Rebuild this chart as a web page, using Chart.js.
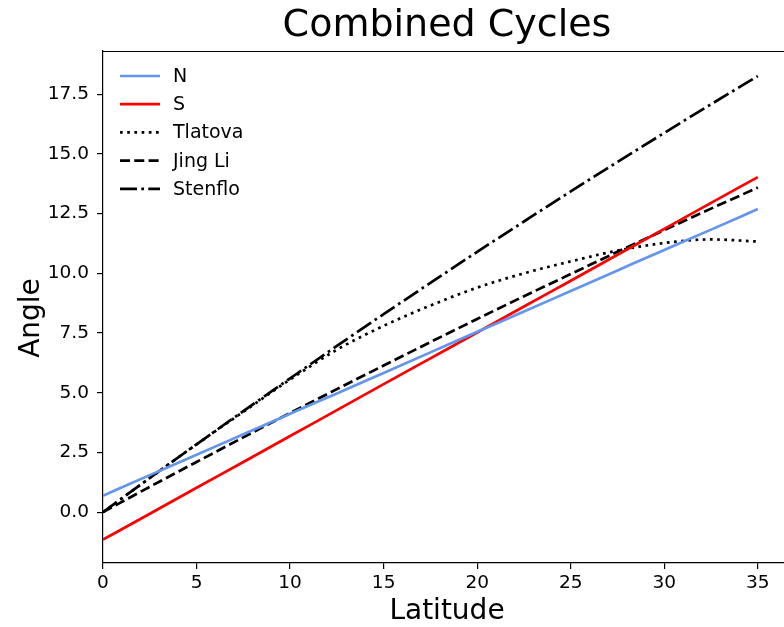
<!DOCTYPE html>
<html>
<head>
<meta charset="utf-8">
<script src="https://cdn.jsdelivr.net/npm/chart.js@4.4.1/dist/chart.umd.min.js"></script>
<style>
  html, body { margin: 0; padding: 0; background: #fff; overflow: hidden; }
  #wrap { width: 784px; height: 627px; }
</style>
</head>
<body>
<div id="wrap"><canvas id="cycles"></canvas></div>
<script>
const latitudes = [0, 2.5, 5, 7.5, 10, 12.5, 15, 17.5, 20, 22.5, 25, 27.5, 30, 32.5, 35];
const north   = [0.69, 1.55, 2.40, 3.26, 4.12, 4.97, 5.83, 6.69, 7.55, 8.40, 9.26, 10.12, 10.98, 11.83, 12.69];
const south   = [-1.15, -0.07, 1.02, 2.10, 3.19, 4.27, 5.36, 6.44, 7.52, 8.61, 9.69, 10.78, 11.86, 12.95, 14.03];
const tlatova = [0, 1.43, 2.84, 4.20, 5.55, 6.80, 7.80, 8.65, 9.40, 10.00, 10.50, 10.95, 11.27, 11.42, 11.33];
const jingLi  = [0, 1.06, 2.10, 3.13, 4.15, 5.15, 6.14, 7.12, 8.09, 9.04, 9.97, 10.90, 11.81, 12.71, 13.59];
const stenflo = [0, 1.43, 2.84, 4.23, 5.60, 6.96, 8.29, 9.60, 10.90, 12.17, 13.43, 14.66, 15.88, 17.08, 18.26];

const latTicks = [0, 5, 10, 15, 20, 25, 30, 35];
const angleTicks = [0, 2.5, 5, 7.5, 10, 12.5, 15, 17.5];

const FONT = "'DejaVu Sans', sans-serif";
const LW = 2.7;

function points(values) {
  return latitudes.map((lat, i) => ({ x: lat, y: values[i] }));
}

function series(label, values, color, dash) {
  return {
    label,
    data: points(values),
    borderColor: color,
    backgroundColor: color,
    borderWidth: LW,
    borderDash: dash,
    borderCapStyle: "butt",
    pointRadius: 0,
    cubicInterpolationMode: "monotone",
    fill: false
  };
}

// title, axis titles, top spine and the in-plot legend
const decorations = {
  id: "decorations",
  afterDraw(chart) {
    const { ctx, chartArea } = chart;
    ctx.save();
    ctx.strokeStyle = "#000";
    ctx.lineWidth = 1.2;
    ctx.beginPath();
    ctx.moveTo(chartArea.left, chartArea.top + 0.5);
    ctx.lineTo(chartArea.right, chartArea.top + 0.5);
    ctx.stroke();

    ctx.fillStyle = "#000";
    ctx.textAlign = "center";
    ctx.textBaseline = "middle";
    ctx.font = `38px ${FONT}`;
    ctx.fillText("Combined Cycles", 447, 26);

    ctx.font = `28px ${FONT}`;
    ctx.fillText("Latitude", 447, 612);
    ctx.save();
    ctx.translate(32, 318);
    ctx.rotate(-Math.PI / 2);
    ctx.fillText("Angle", 0, 0);
    ctx.restore();

    ctx.font = `19px ${FONT}`;
    ctx.textAlign = "left";
    chart.data.datasets.forEach((ds, i) => {
      const y = 76 + i * 28.2;
      ctx.strokeStyle = ds.borderColor;
      ctx.lineWidth = LW;
      ctx.lineCap = "butt";
      ctx.setLineDash(ds.borderDash || []);
      ctx.beginPath();
      ctx.moveTo(120, y);
      ctx.lineTo(160, y);
      ctx.stroke();
      ctx.setLineDash([]);
      ctx.fillText(ds.label, 173, y + 1);
    });
    ctx.restore();
  }
};

const chart = new Chart(document.getElementById("cycles"), {
  type: "line",
  data: {
    datasets: [
      series("N", north, "#6495ED", []),
      series("S", south, "#FF0000", []),
      series("Tlatova", tlatova, "#000000", [2.7, 4.5]),
      series("Jing Li", jingLi, "#000000", [10, 4.3]),
      series("Stenflo", stenflo, "#000000", [17, 4.3, 2.7, 4.3])
    ]
  },
  options: {
    responsive: true,
    maintainAspectRatio: false,
    animation: false,
    layout: { padding: { top: 51, right: 0, bottom: 0, left: 0 } },
    plugins: {
      legend: { display: false },
      title: { display: false },
      tooltip: { enabled: false }
    },
    scales: {
      x: {
        type: "linear",
        min: 0,
        max: 36.4,
        afterFit: (scale) => { scale.height = 64; },
        afterBuildTicks: (scale) => { scale.ticks = latTicks.map((v) => ({ value: v })); },
        grid: { drawOnChartArea: false, drawTicks: true, tickLength: 6, color: "#000", lineWidth: 1.2 },
        border: { display: true, color: "#000", width: 1.2 },
        ticks: {
          color: "#000",
          padding: 3,
          maxRotation: 0,
          font: { family: FONT, size: 18.5 },
          callback: (v) => String(v)
        }
      },
      y: {
        type: "linear",
        min: -2.13,
        max: 19.31,
        afterFit: (scale) => { scale.width = 103; },
        afterBuildTicks: (scale) => { scale.ticks = angleTicks.map((v) => ({ value: v })); },
        grid: { drawOnChartArea: false, drawTicks: true, tickLength: 6, color: "#000", lineWidth: 1.2 },
        border: { display: true, color: "#000", width: 1.2 },
        ticks: {
          color: "#000",
          padding: 8,
          font: { family: FONT, size: 18.5 },
          callback: (v) => Number(v).toFixed(1)
        }
      }
    }
  },
  plugins: [decorations]
});
</script>
</body>
</html>
